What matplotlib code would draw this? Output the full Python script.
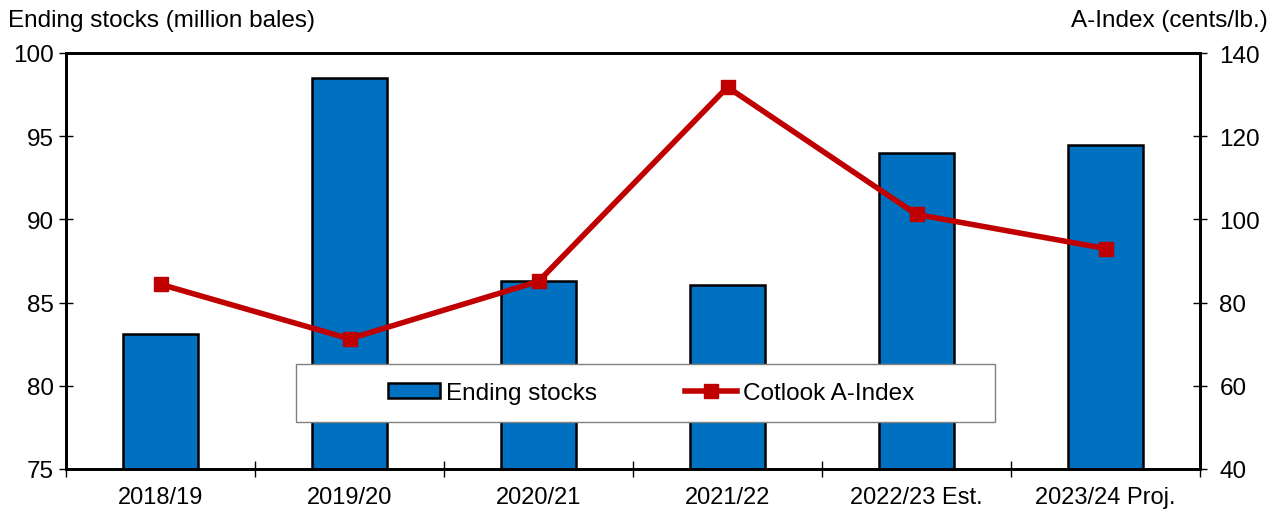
import numpy as np
import matplotlib as mpl
import matplotlib.pyplot as plt
from matplotlib.patches import Rectangle

plt.rcParams['font.family'] = ['Liberation Sans', 'DejaVu Sans']

# data
years = ['2018/19', '2019/20', '2020/21', '2021/22', '2022/23 Est.', '2023/24 Proj.']
ending_stocks = [83.1, 98.5, 86.3, 86.05, 94.0, 94.5]
a_index = [84.4, 71.3, 85.1, 131.8, 101.2, 93.0]

bar_color = '#0070C0'
line_color = '#C00000'
labelsize = 17.5

fig = plt.figure(figsize=(12.75, 5.1), dpi=100)
ax = fig.add_axes([66 / 1275, 40 / 510, (1200 - 66) / 1275, (470 - 54) / 510])
ax2 = ax.twinx()

x = np.arange(len(years))
bars = ax.bar(x, ending_stocks, width=0.4, color=bar_color, edgecolor='black',
              linewidth=1.8, label='Ending stocks', zorder=2)
line, = ax2.plot(x, a_index, color=line_color, linewidth=4.0, marker='s',
                 markersize=9.5, label='Cotlook A-Index', zorder=3)

ax.set_xlim(-0.5, len(years) - 0.5)
ax.set_ylim(75, 100)
ax.set_yticks(np.arange(75, 101, 5))
ax2.set_ylim(40, 140)
ax2.set_yticks(np.arange(40, 141, 20))

# category labels centred, ticks on category boundaries
ax.set_xticks(x)
ax.set_xticklabels(years)
ax.set_xticks(np.arange(-0.5, len(years), 1), minor=True)
ax.tick_params(axis='x', which='major', length=0, labelsize=labelsize - 0.5, pad=12)
ax.tick_params(axis='x', which='minor', direction='inout', length=11, width=1)
ax.tick_params(axis='y', direction='inout', length=10, width=1, labelsize=labelsize, pad=4)
ax2.tick_params(axis='y', direction='inout', length=10, width=1, labelsize=labelsize, pad=9)

for a in (ax, ax2):
    for s in a.spines.values():
        s.set_linewidth(2.0)

fig.text(8 / 1275, 1 - 21 / 510, 'Ending stocks (million bales)', fontsize=labelsize,
         va='center', ha='left')
fig.text(1268 / 1275, 1 - 21 / 510, 'A-Index (cents/lb.)', fontsize=labelsize,
         va='center', ha='right')

# legend box
bx0 = (296 - 66) / 1134
by0 = (470 - 423) / 416
box = Rectangle((bx0, by0), (995 - 296) / 1134, 58 / 416, transform=ax2.transAxes,
                facecolor='white', edgecolor='#808080', linewidth=1.0, zorder=4)
ax2.add_patch(box)

leg = ax2.legend([bars, line], ['Ending stocks', 'Cotlook A-Index'], ncol=2,
                 loc='center', bbox_to_anchor=(0.516, 0.183), fontsize=labelsize,
                 frameon=False, borderpad=0.2, columnspacing=3.6, handlelength=2.15,
                 handleheight=0.6, handletextpad=0.25)
leg.set_zorder(5)

fig.savefig('out.png', dpi=100)
